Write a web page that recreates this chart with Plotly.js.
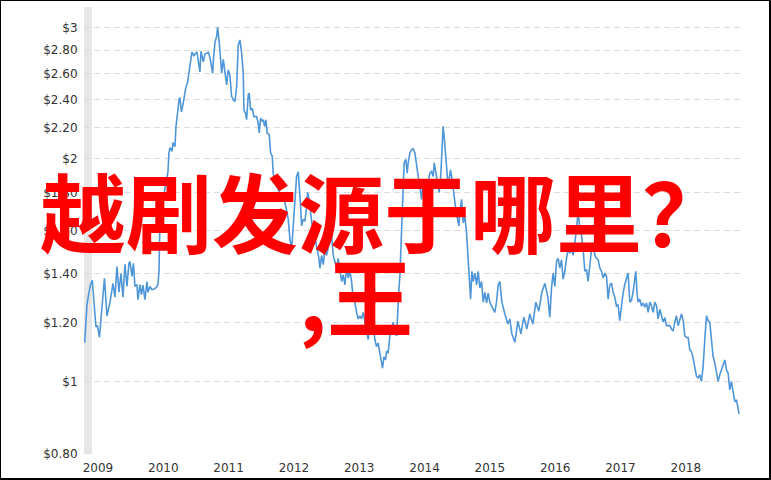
<!DOCTYPE html>
<html>
<head>
<meta charset="utf-8">
<script src="https://cdn.plot.ly/plotly-3.0.1.min.js"></script>
<style>
html,body{margin:0;padding:0;background:#fff;}
#wrap{position:relative;width:771px;height:480px;}
#chart{width:771px;height:480px;}
#frame{position:absolute;left:0;top:0;width:771px;height:480px;box-sizing:border-box;border-top:1px solid #000;border-left:1px solid #000;border-right:2px solid #000;border-bottom:2px solid #000;pointer-events:none;}
</style>
</head>
<body>
<div id="wrap"><div id="chart"></div><div id="frame"></div></div>
<script>
const dates = [
2008.796,2008.808,2008.832,2008.862,2008.885,2008.913,2008.939,2008.969,2008.992,2009.023,
2009.046,2009.077,2009.099,2009.138,2009.184,2009.230,2009.260,2009.291,2009.321,2009.352,
2009.383,2009.413,2009.444,2009.474,2009.490,2009.520,2009.543,2009.566,2009.597,2009.612,
2009.643,2009.666,2009.689,2009.719,2009.750,2009.765,2009.796,2009.827,2009.872,2009.903,
2009.918,2009.934,2009.949,2009.964,2009.995,2010.026,2010.056,2010.071,2010.087,2010.102,
2010.133,2010.148,2010.179,2010.194,2010.224,2010.240,2010.255,2010.278,2010.301,2010.316,
2010.347,2010.370,2010.393,2010.416,2010.439,2010.469,2010.485,2010.515,2010.531,2010.546,
2010.561,2010.577,2010.612,2010.638,2010.688,2010.714,2010.756,2010.765,2010.791,2010.817,
2010.832,2010.857,2010.883,2010.894,2010.918,2010.944,2010.970,2010.994,2011.020,2011.046,
2011.071,2011.097,2011.123,2011.147,2011.173,2011.199,2011.224,2011.235,2011.261,2011.276,
2011.301,2011.316,2011.337,2011.362,2011.388,2011.429,2011.454,2011.469,2011.490,2011.515,
2011.530,2011.552,2011.571,2011.591,2011.622,2011.643,2011.668,2011.683,2011.709,2011.760,
2011.812,2011.836,2011.878,2011.913,2011.939,2011.965,2011.989,2012.015,2012.041,2012.066,
2012.081,2012.103,2012.118,2012.142,2012.168,2012.194,2012.209,2012.234,2012.256,2012.280,
2012.306,2012.337,2012.357,2012.383,2012.398,2012.424,2012.449,2012.475,2012.500,2012.525,
2012.551,2012.577,2012.602,2012.628,2012.654,2012.678,2012.704,2012.730,2012.755,2012.781,
2012.807,2012.831,2012.857,2012.883,2012.908,2012.934,2012.960,2012.984,2013.010,2013.036,
2013.061,2013.112,2013.137,2013.163,2013.189,2013.214,2013.240,2013.265,2013.290,2013.316,
2013.342,2013.357,2013.377,2013.403,2013.418,2013.443,2013.469,2013.495,2013.520,2013.546,
2013.572,2013.581,2013.603,2013.623,2013.638,2013.653,2013.673,2013.688,2013.714,2013.734,
2013.750,2013.776,2013.801,2013.826,2013.852,2013.878,2013.903,2013.929,2013.954,2013.979,
2014.005,2014.031,2014.056,2014.082,2014.108,2014.132,2014.148,2014.173,2014.193,2014.224,
2014.245,2014.260,2014.275,2014.285,2014.300,2014.322,2014.337,2014.362,2014.377,2014.398,
2014.423,2014.449,2014.474,2014.499,2014.526,2014.541,2014.567,2014.592,2014.617,2014.643,
2014.668,2014.683,2014.705,2014.725,2014.745,2014.771,2014.797,2014.821,2014.847,2014.873,
2014.898,2014.924,2014.950,2014.974,2015.000,2015.026,2015.051,2015.077,2015.102,2015.127,
2015.153,2015.184,2015.230,2015.276,2015.306,2015.337,2015.383,2015.429,2015.475,2015.520,
2015.566,2015.612,2015.658,2015.704,2015.750,2015.796,2015.842,2015.888,2015.918,2015.944,
2015.969,2015.995,2016.021,2016.046,2016.071,2016.097,2016.122,2016.148,2016.174,2016.199,
2016.224,2016.250,2016.275,2016.301,2016.327,2016.352,2016.378,2016.404,2016.428,2016.454,
2016.480,2016.505,2016.531,2016.556,2016.582,2016.607,2016.633,2016.658,2016.684,2016.709,
2016.735,2016.760,2016.786,2016.811,2016.837,2016.862,2016.888,2016.913,2016.939,2016.963,
2016.989,2017.015,2017.040,2017.065,2017.092,2017.116,2017.143,2017.168,2017.193,2017.219,
2017.234,2017.254,2017.270,2017.296,2017.321,2017.347,2017.372,2017.398,2017.424,2017.449,
2017.475,2017.500,2017.526,2017.552,2017.576,2017.602,2017.628,2017.653,2017.679,2017.705,
2017.729,2017.755,2017.781,2017.806,2017.832,2017.857,2017.883,2017.908,2017.934,2017.960,
2017.985,2018.011,2018.036,2018.061,2018.087,2018.112,2018.138,2018.164,2018.189,2018.214,
2018.240,2018.265,2018.291,2018.317,2018.341,2018.367,2018.393,2018.418,2018.444,2018.469,
2018.495,2018.521,2018.546,2018.571,2018.597,2018.623,2018.648,2018.674,2018.699,2018.724,
2018.750,2018.776,2018.801,2018.816
];
const prices = [
1.129,1.190,1.270,1.320,1.350,1.370,1.280,1.185,1.190,1.148,
1.215,1.320,1.378,1.226,1.280,1.357,1.300,1.430,1.320,1.400,
1.300,1.440,1.344,1.444,1.452,1.387,1.444,1.344,1.352,1.290,
1.352,1.310,1.350,1.290,1.365,1.320,1.344,1.330,1.335,1.344,
1.352,1.410,1.655,1.700,1.760,1.817,1.873,1.917,2.037,2.068,
2.044,2.100,2.075,2.207,2.323,2.400,2.415,2.310,2.363,2.415,
2.497,2.527,2.608,2.720,2.783,2.748,2.765,2.783,2.720,2.690,
2.616,2.790,2.700,2.765,2.780,2.737,2.605,2.700,2.867,2.920,
3.007,2.867,2.686,2.605,2.720,2.632,2.513,2.632,2.592,2.425,
2.400,2.387,2.500,2.838,2.889,2.780,2.605,2.323,2.300,2.255,
2.437,2.450,2.323,2.336,2.277,2.277,2.230,2.164,2.266,2.243,
2.255,2.209,2.255,2.164,2.153,2.035,2.014,1.910,1.854,1.817,
1.761,1.780,1.720,1.655,1.555,1.506,1.622,1.780,1.891,1.919,
1.800,1.720,1.622,1.655,1.646,1.720,1.800,1.761,1.690,1.622,
1.589,1.539,1.506,1.467,1.423,1.480,1.438,1.506,1.480,1.510,
1.555,1.572,1.480,1.452,1.423,1.467,1.409,1.365,1.394,1.351,
1.423,1.380,1.409,1.365,1.292,1.277,1.240,1.215,1.227,1.215,
1.240,1.178,1.140,1.190,1.166,1.190,1.140,1.115,1.127,1.093,
1.060,1.043,1.080,1.070,1.100,1.093,1.153,1.166,1.203,1.166,
1.153,1.215,1.310,1.394,1.510,1.655,1.835,1.973,1.994,1.910,
1.973,2.035,2.056,2.060,2.035,1.952,1.891,1.835,1.761,1.860,
1.780,1.817,1.873,1.910,1.920,1.891,1.973,1.910,1.860,1.800,
1.873,1.994,2.164,2.209,2.142,1.994,1.952,1.835,1.891,1.930,
1.873,1.780,1.720,1.670,1.622,1.700,1.761,1.638,1.670,1.589,
1.452,1.394,1.292,1.409,1.365,1.401,1.351,1.409,1.338,1.365,
1.280,1.320,1.277,1.316,1.280,1.265,1.252,1.240,1.280,1.351,
1.365,1.280,1.234,1.196,1.215,1.160,1.130,1.207,1.160,1.222,
1.178,1.234,1.196,1.280,1.245,1.320,1.357,1.300,1.222,1.338,
1.401,1.344,1.452,1.467,1.423,1.460,1.375,1.409,1.467,1.510,
1.490,1.510,1.480,1.539,1.605,1.700,1.605,1.572,1.510,1.409,
1.416,1.365,1.423,1.506,1.539,1.480,1.467,1.460,1.423,1.409,
1.380,1.401,1.387,1.292,1.351,1.358,1.320,1.300,1.265,1.270,
1.209,1.265,1.316,1.351,1.380,1.401,1.280,1.287,1.320,1.394,
1.409,1.316,1.280,1.292,1.265,1.277,1.260,1.277,1.240,1.280,
1.265,1.240,1.280,1.265,1.215,1.252,1.227,1.203,1.220,1.190,
1.190,1.190,1.178,1.171,1.203,1.227,1.190,1.215,1.234,1.209,
1.153,1.147,1.147,1.104,1.098,1.076,1.048,1.017,1.012,1.022,
1.001,1.048,1.140,1.227,1.209,1.203,1.140,1.082,1.060,1.027,
1.001,1.022,1.038,1.054,1.070,1.038,1.027,0.975,1.001,0.970,
0.940,0.945,0.920,0.905
];
const yTickVals = [0.8,1,1.2,1.4,1.6,1.8,2,2.2,2.4,2.6,2.8,3];
const yTickText = ['$0.80','$1','$1.20','$1.40','$1.60','$1.80','$2','$2.20','$2.40','$2.60','$2.80','$3'];
const xTickVals = [2009,2010,2011,2012,2013,2014,2015,2016,2017,2018];
const xTickText = ['2009','2010','2011','2012','2013','2014','2015','2016','2017','2018'];
const titleLine1 = '越剧发源于哪里？';
const titleLine2 = ',王';
const shadeStart = 2008.786, shadeEnd = 2008.908;

const trace = {
  x: dates, y: prices, type: 'scatter', mode: 'lines',
  line: {color: '#4f96d8', width: 1.6},
  hoverinfo: 'skip'
};
const layout = {
  width: 771, height: 480,
  margin: {l: 84, r: 31, t: 7, b: 26, pad: 0},
  paper_bgcolor: '#fff', plot_bgcolor: '#fff',
  showlegend: false,
  font: {family: 'DejaVu Sans, Verdana, sans-serif', size: 12, color: '#333'},
  xaxis: {
    type: 'linear', range: [2008.786, 2018.83],
    tickvals: xTickVals, ticktext: xTickText,
    showgrid: false, zeroline: false, showline: false,
    ticks: 'outside', ticklen: 3, tickcolor: 'rgba(0,0,0,0)',
    tickfont: {size: 12, color: '#333'}
  },
  yaxis: {
    type: 'log', range: [Math.log10(0.799), Math.log10(3.2)],
    tickvals: yTickVals, ticktext: yTickText,
    showgrid: true, gridcolor: '#dcdcdc', griddash: '6px,4px', gridwidth: 1,
    zeroline: false, showline: false,
    ticks: 'outside', ticklen: 3, tickcolor: 'rgba(0,0,0,0)',
    tickfont: {size: 12, color: '#333'}
  },
  shapes: [{
    type: 'rect', xref: 'x', yref: 'paper', x0: shadeStart, x1: shadeEnd, y0: 0, y1: 1,
    fillcolor: '#e6e6e6', line: {width: 0}, layer: 'below'
  }],
  annotations: [
    {text: '<b>' + titleLine1 + '</b>', xref: 'paper', yref: 'paper', x: 0.458, y: 0.548,
     xanchor: 'center', yanchor: 'middle', showarrow: false,
     font: {family: 'Noto Sans CJK SC', size: 86, color: '#ff0000'}},
    {text: '<b>' + titleLine2 + '</b>', xref: 'paper', yref: 'paper', x: 0.415, y: 0.358,
     xanchor: 'center', yanchor: 'middle', showarrow: false,
     font: {family: 'Noto Sans CJK SC', size: 86, color: '#ff0000'}}
  ]
};
Plotly.newPlot('chart', [trace], layout, {displayModeBar: false, staticPlot: true});
</script>
</body>
</html>
